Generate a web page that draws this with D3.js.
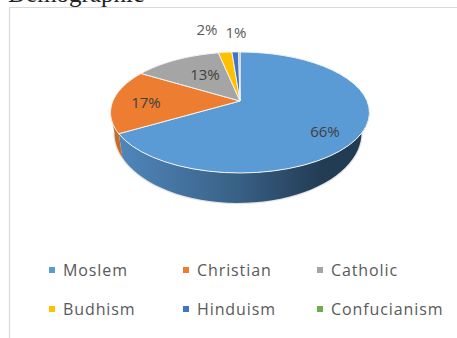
<!DOCTYPE html>
<html>
<head>
<meta charset="utf-8">
<script src="https://d3js.org/d3.v7.min.js"></script>
<style>
html,body{margin:0;padding:0;background:#fff;overflow:hidden}
text{font-family:"Open Sans",sans-serif}
</style>
</head>
<body>
<svg id="chart" width="457" height="338"></svg>
<script>
const categories = ["Moslem","Christian","Catholic","Budhism","Hinduism","Confucianism"];
const shares = [66,17,13,2,1,0.2];
const shareLabels = ["66%","17%","13%","2%","1%",""];
const colors = ["#5b9bd5","#ed7d31","#a5a5a5","#ffc000","#4472c4","#70ad47"];
const labelSpots = [[325,131],[146,102],[205,74],[207,29],[236,32],null];

const svg = d3.select("#chart");

// Clipped heading above the chart frame
svg.append("text").attr("x",8).attr("y",2)
  .style("font-family","'Liberation Serif',serif").style("font-size","25px")
  .attr("fill","#222").text("Demographic");

// Chart frame: only the top and left edges fall inside the view
svg.append("path").attr("d","M9.5,338V7.5H457").attr("fill","none").attr("stroke","#d9d9d9").attr("stroke-width",1.2);

// Tilted disc: a circle seen in perspective, apex away from the ellipse middle
const apex = {x:240,y:101}, rx = 127.1, ry = 58.3, persp = 0.19;
const topFace = {cx:240,cy:112.5,rx:129.5,ry:60.5};
const baseFace = {cx:238,cy:133,rx:123.5,ry:70};
const project = a => {
  const u = Math.sin(a), v = Math.cos(a), w = 1 + persp*v;
  return [apex.x + rx*u/w, apex.y - ry*v/w];
};
// Same angle on the lower rim, which recedes slightly from the viewer
const projectBase = a => {
  const [x,y] = project(a);
  return [baseFace.cx + (x-topFace.cx)*baseFace.rx/topFace.rx,
          baseFace.cy + (y-topFace.cy)*baseFace.ry/topFace.ry];
};
const line = d3.line();
const sample = (a0,a1,fn=project) => d3.range(0,41).map(i=>fn(a0+(a1-a0)*i/40));

const arcs = d3.pie().sort(null).value(d=>d)(shares);

const defs = svg.append("defs");
const grad = defs.append("linearGradient").attr("id","wallBlue")
  .attr("gradientUnits","userSpaceOnUse").attr("x1",120).attr("x2",370).attr("y1",0).attr("y2",0);
grad.append("stop").attr("offset","0").attr("stop-color","#4f86bb");
grad.append("stop").attr("offset","0.45").attr("stop-color","#3a6288");
grad.append("stop").attr("offset","0.8").attr("stop-color","#233d55");
grad.append("stop").attr("offset","1").attr("stop-color","#203a52");

// Front-facing side wall, from the right extreme round to the left extreme
const rightEdge = Math.acos(-persp), leftEdge = 2*Math.PI - rightEdge;
const wall = (a0,a1,fill) => {
  const a = Math.max(a0,rightEdge), b = Math.min(a1,leftEdge);
  if (b <= a) return;
  const pts = sample(a,b).concat(sample(a,b,projectBase).reverse());
  svg.append("path").attr("d",line(pts)+"Z").attr("fill",fill);
};
// Soft pale outline under the lower rim
svg.append("path").attr("d",line(sample(rightEdge,leftEdge,projectBase)))
  .attr("fill","none").attr("stroke","#e3e3e3").attr("stroke-width",2.5);
wall(arcs[0].startAngle,arcs[0].endAngle,"url(#wallBlue)");
wall(arcs[1].startAngle,arcs[1].endAngle,"#c46c2b");

// Top face of each slice
svg.selectAll("path.slice").data(arcs).join("path").attr("class","slice")
  .attr("d",d=>line([[apex.x,apex.y],...sample(d.startAngle,d.endAngle)])+"Z")
  .attr("fill",(d,i)=>colors[i])
  .attr("stroke","#f2f2f2").attr("stroke-width",1).attr("stroke-linejoin","round");

// Share labels
svg.selectAll("text.share").data(shareLabels).join("text").attr("class","share")
  .filter(d=>d!=="")
  .attr("x",(d,i)=>labelSpots[i][0]).attr("y",(d,i)=>labelSpots[i][1])
  .attr("text-anchor","middle").attr("dominant-baseline","central")
  .attr("font-size",15).attr("fill",(d,i)=>i>2?"#595959":"#404040").text(d=>d);

// Legend: three columns, two rows
const colX = d3.scalePoint().domain([0,1,2]).range([49,317]);
const rowY = d3.scalePoint().domain([0,1]).range([270,309]);
const items = svg.selectAll("g.item").data(categories).join("g").attr("class","item")
  .attr("transform",(d,i)=>`translate(${colX(i%3)},${rowY(Math.floor(i/3))})`);
items.append("rect").attr("x",0).attr("y",-3).attr("width",6).attr("height",6).attr("fill",(d,i)=>colors[i]);
items.append("text").attr("x",14).attr("y",0).attr("dominant-baseline","central")
  .attr("font-size",16).attr("letter-spacing",0.9).attr("fill","#595959").text(d=>d);
</script>
</body>
</html>
